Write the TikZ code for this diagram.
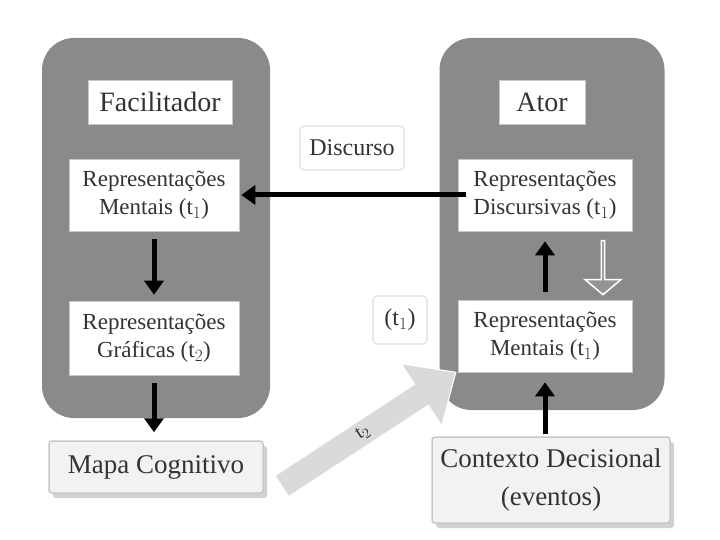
\documentclass[tikz,border=0pt]{standalone}
\usepackage{fontspec}
\setmainfont{Liberation Serif}
\usetikzlibrary{shapes.arrows,arrows.meta,shadows,calc}
\definecolor{panelgray}{HTML}{8A8A8A}
\definecolor{txtgray}{HTML}{333333}
\definecolor{boxline}{HTML}{C8C8C8}
\definecolor{lightfill}{HTML}{F2F2F2}
\definecolor{fatgray}{HTML}{DADADA}
\begin{document}
\begin{tikzpicture}[x=1pt,y=-1pt,
  panel/.style={fill=panelgray, rounded corners=32pt, inner sep=0pt},
  inbox/.style={fill=white, draw=boxline, line width=0.6pt, text=txtgray, align=center, inner sep=0pt, font=\fontsize{23}{28}\selectfont},
  titlebox/.style={inbox, font=\fontsize{28}{30}\selectfont},
  outbox/.style={fill=lightfill, draw=boxline, line width=1.5pt, rounded corners=3pt, text=txtgray, align=center, inner sep=0pt, font=\fontsize{27}{38}\selectfont, drop shadow={shadow xshift=4pt, shadow yshift=-5pt, fill=black!30, opacity=0.6}},
  tagbox/.style={fill=white, draw=black!12, line width=1.2pt, rounded corners=4pt, text=txtgray, inner sep=0pt, font=\fontsize{24}{26}\selectfont},
  blackarrow/.style={line width=5pt, -{Triangle[length=14pt,width=19pt]}}
]
\useasboundingbox (0,0) rectangle (720,540);

% panels
\node[panel, minimum width=228pt, minimum height=380pt] (lpanel) at (156,228) {};
\node[panel, minimum width=225pt, minimum height=372pt] (rpanel) at (552,224) {};

% left column
\node[titlebox, minimum width=144pt, minimum height=44pt] (fac) at (160,102) {Facilitador};
\node[inbox, minimum width=170pt, minimum height=72pt] (lment) at (154,195) {Representações\\Mentais (t$_1$)};
\node[inbox, minimum width=170pt, minimum height=74pt] (lgraf) at (154,338) {Representações\\Gráficas (t$_2$)};
\node[outbox, minimum width=214pt, minimum height=52pt] (mapa) at (156,467) {Mapa Cognitivo};

% right column
\node[titlebox, minimum width=86pt, minimum height=44pt] (ator) at (542,102) {Ator};
\node[inbox, minimum width=174pt, minimum height=72pt] (disc) at (545,195) {Representações\\Discursivas (t$_1$)};
\node[inbox, minimum width=174pt, minimum height=72pt] (rment) at (545,336) {Representações\\Mentais (t$_1$)};
\node[outbox, minimum width=238pt, minimum height=86pt] (ctx) at (551,480) {Contexto Decisional\\(eventos)};

% labels
\node[tagbox, minimum width=104pt, minimum height=44pt] (discurso) at (352,148) {Discurso};
\node[tagbox, minimum width=54pt, minimum height=48pt] (tlab) at (400,320) {(t$_1$)};

% black connectors
\draw[blackarrow, shorten <=8pt, shorten >=6pt] (lment.south) -- (lgraf.north);
\draw[blackarrow, shorten <=8pt, shorten >=8pt] (lgraf.south) -- (mapa.north -| lgraf.south);
\draw[blackarrow, shorten <=-8pt, shorten >=2pt] (disc.west) -- (lment.east);
\draw[blackarrow, shorten <=8pt, shorten >=10pt] (rment.north -| disc.south) -- (disc.south);
\draw[blackarrow, shorten <=2pt, shorten >=10pt] (ctx.north -| rment.south) -- (rment.south);

% fat arrow
\coordinate (fatstart) at (276,490);
\coordinate (fatend) at (450,376);
\node[single arrow, fill=fatgray, draw=white, line width=1pt, minimum height=208pt, minimum width=74pt,
      single arrow head extend=15pt, single arrow tip angle=84, rotate=33.2, text=txtgray,
      font=\fontsize{20}{22}\selectfont, inner sep=0pt] (fat) at ($(fatstart)!0.5!(fatend)$) {t$_2$};

% small down icon
\node[single arrow, fill=black!42, draw=white, line width=1.5pt, minimum height=54pt, minimum width=36pt,
      single arrow head extend=8pt, single arrow tip angle=100, rotate=-90, inner sep=0pt] (icon) at (603,267) {};
\end{tikzpicture}
\end{document}
